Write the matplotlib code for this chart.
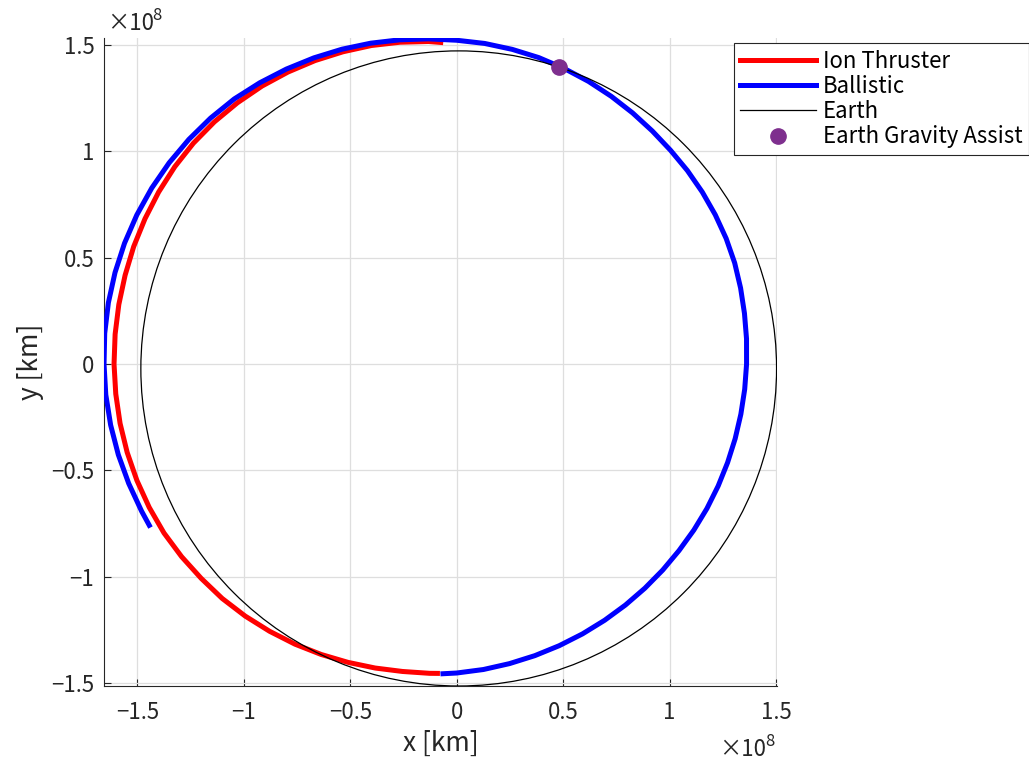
import matplotlib
matplotlib.use('Agg')
import numpy as np
import matplotlib.pyplot as plt
from matplotlib.patches import Ellipse
from matplotlib.lines import Line2D
from matplotlib.ticker import FuncFormatter

plt.rcParams['font.family'] = ['Noto Sans CJK JP', 'DejaVu Sans']

# trajectories as (angle [deg], distance from sun [1e8 km])
ion_theta = [92.4, 95, 100, 105, 110, 115, 120, 125, 130, 135, 140, 145, 150, 155, 160,
             165, 170, 175, 180, 185, 190, 195, 200, 205, 210, 215, 220, 225, 230, 235,
             240, 245, 250, 255, 260, 265, 266.9]
ion_r = [1.512, 1.522, 1.536, 1.550, 1.562, 1.574, 1.585, 1.595, 1.603, 1.610, 1.615,
         1.617, 1.617, 1.616, 1.615, 1.613, 1.612, 1.611, 1.610, 1.608, 1.606, 1.603,
         1.599, 1.594, 1.588, 1.578, 1.567, 1.558, 1.546, 1.533, 1.520, 1.506, 1.492,
         1.479, 1.467, 1.459, 1.456]

bal_theta = [-93, -90, -85, -80, -75, -70, -65, -60, -55, -50, -45, -40, -35, -30, -25,
             -20, -15, -10, -5, 0, 5, 10, 15, 20, 25, 30, 35, 40, 45, 50, 55, 60, 65,
             70, 75, 80, 85, 90, 95, 100, 105, 110, 115, 120, 125, 130, 135, 140, 145,
             150, 155, 160, 165, 170, 175, 180, 185, 190, 195, 200, 205, 208.1]
bal_r = [1.458, 1.452, 1.441, 1.4295, 1.4187, 1.4085, 1.3991, 1.3903, 1.3824, 1.3753,
         1.3691, 1.3637, 1.3603, 1.3577, 1.3556, 1.3544, 1.3546, 1.3558, 1.3584, 1.362,
         1.367, 1.373, 1.381, 1.390, 1.397, 1.403, 1.409, 1.415, 1.421, 1.430, 1.441,
         1.453, 1.4658, 1.4783, 1.4912, 1.502, 1.5127, 1.522, 1.5344, 1.5475, 1.5614,
         1.575, 1.588, 1.601, 1.6138, 1.6265, 1.6352, 1.6428, 1.6493, 1.6545, 1.6584,
         1.6609, 1.662, 1.6618, 1.6601, 1.657, 1.655, 1.651, 1.646, 1.640, 1.634, 1.631]

earth_center = (0.0095, -0.0205)
earth_ax = 1.4935
earth_ay = 1.4925

ega_x = [0.483]
ega_y = [1.398]

t = np.radians(ion_theta)
ion_x, ion_y = np.array(ion_r)*np.cos(t), np.array(ion_r)*np.sin(t)
t = np.radians(bal_theta)
bal_x, bal_y = np.array(bal_r)*np.cos(t), np.array(bal_r)*np.sin(t)

fig = plt.figure(figsize=(10.29, 7.64), dpi=100)
ax = fig.add_axes([0.1011, 0.1021, 0.654, 0.848])

ax.plot(ion_x, ion_y, color='#ff0000', lw=3.6, solid_capstyle='butt', zorder=3)
ax.plot(bal_x, bal_y, color='#0000ff', lw=3.6, solid_capstyle='butt', zorder=3)
ax.add_patch(Ellipse(earth_center, 2*earth_ax, 2*earth_ay, fill=False,
                     edgecolor='black', lw=0.9, zorder=4))
ax.plot(ega_x, ega_y, 'o', color='#7e2f8e', ms=11, zorder=5)

ax.set_xlim(-1.657, 1.505)
ax.set_ylim(-1.513, 1.532)
ticks = [-1.5, -1, -0.5, 0, 0.5, 1, 1.5]
ax.set_xticks(ticks)
ax.set_yticks(ticks)
fmt = FuncFormatter(lambda v, p: f'{v:g}'.replace('-', '\u2212'))
ax.xaxis.set_major_formatter(fmt)
ax.yaxis.set_major_formatter(fmt)
ax.tick_params(direction='in', length=5, width=0.8, labelsize=16, colors='#262626', pad=7)
ax.tick_params(axis='x', pad=11)
ax.grid(True, color='#dedede', lw=0.9)
ax.set_axisbelow(True)
for s in ['top', 'right']:
    ax.spines[s].set_visible(False)
for s in ['left', 'bottom']:
    ax.spines[s].set_color('#262626')
    ax.spines[s].set_linewidth(0.8)

ax.set_xlabel('x [km]', fontsize=19, color='#262626', labelpad=4)
ax.set_ylabel('y [km]', fontsize=19, color='#262626', labelpad=5)

# exponent labels
fig.text(107/1029, 1-24/764, '\u00d710', fontsize=16, color='#262626', va='center')
fig.text(152/1029, 1-16/764, '8', fontsize=12, color='#262626', va='center')
fig.text(719/1029, 1-750/764, '\u00d710', fontsize=16, color='#262626', va='center')
fig.text(765/1029, 1-742/764, '8', fontsize=12, color='#262626', va='center')

handles = [Line2D([], [], color='#ff0000', lw=3.6),
           Line2D([], [], color='#0000ff', lw=3.6),
           Line2D([], [], color='black', lw=0.9),
           Line2D([], [], color='#7e2f8e', marker='o', ls='none', ms=11)]
labels = ['Ion Thruster', 'Ballistic', 'Earth', 'Earth Gravity Assist']
leg = fig.legend(handles, labels, loc='upper right', bbox_to_anchor=(1.0, 1-43/764),
                 fontsize=16, frameon=True, fancybox=False, edgecolor='#262626',
                 borderpad=0.3, handlelength=3.4, handletextpad=0.3, labelspacing=0.1,
                 borderaxespad=0)
leg.get_frame().set_linewidth(0.8)
leg.get_frame().set_alpha(1)

fig.savefig('out.png', dpi=100)
